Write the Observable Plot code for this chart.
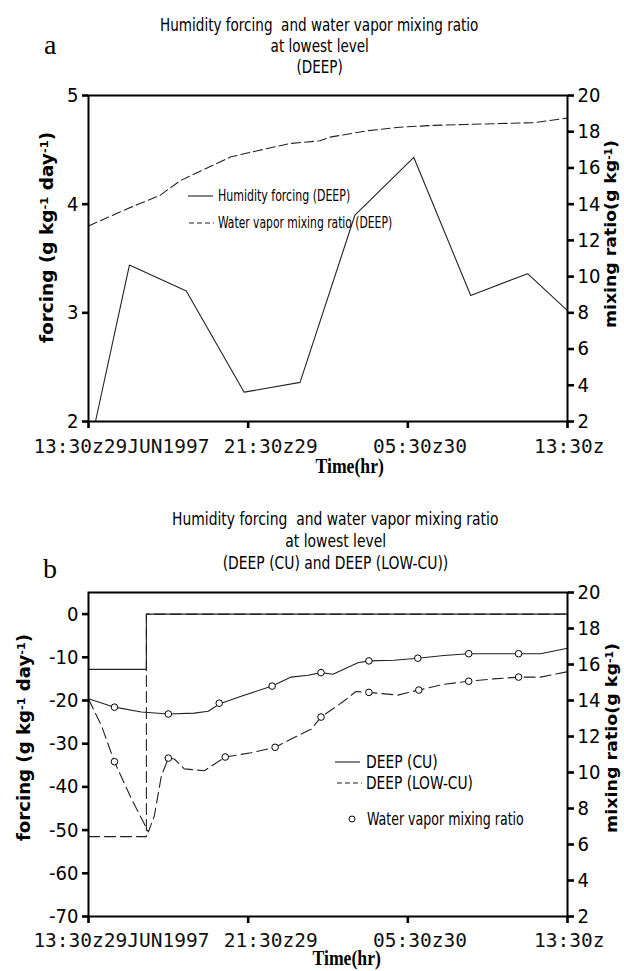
<!DOCTYPE html>
<html><head><meta charset="utf-8">
<script src="https://cdn.jsdelivr.net/npm/d3@7"></script>
<script src="https://cdn.jsdelivr.net/npm/@observablehq/plot@0.6"></script>
<style>
body{margin:0;background:#fff;}
#wrap{position:relative;width:624px;height:971px;overflow:hidden;background:#fff;}
.pl{position:absolute;left:0;}
.lbl{position:absolute;white-space:nowrap;line-height:1;color:#000;}
.sp{position:relative;top:-0.45em;font-size:0.62em;}
</style></head><body><div id="wrap"></div>
<script>
// ---------- data ----------
const timeTicks = [0, 8, 16, 24];
const timeTickLabels = ["13:30z29JUN1997", "21:30z29", "05:30z30", "13:30z"];
const forcingTicksA = [2, 3, 4, 5];
const forcingTicksB = [0, -10, -20, -30, -40, -50, -60, -70];
const mixTicks = [2, 4, 6, 8, 10, 12, 14, 16, 18, 20];

// panel a
const hoursForceA = [0.35, 2.05, 4.9, 7.8, 10.6, 13.35, 16.3, 19.15, 22.0, 24];
const forceA = [2.0, 3.44, 3.2, 2.27, 2.36, 3.9, 4.43, 3.16, 3.36, 3.02];
const hoursMixA = [0, 1.95, 3.6, 4.6, 7.1, 7.85, 10.1, 11.6, 12.1, 13.95, 15.6, 17.25, 18.9, 20.6, 22.3, 24];
const mixA = [12.8, 13.75, 14.5, 15.3, 16.6, 16.8, 17.35, 17.5, 17.7, 18.05, 18.25, 18.35, 18.4, 18.45, 18.5, 18.75];

// panel b
const hoursStepB = [0, 2.9, 2.9, 24];
const forceCU = [-12.8, -12.8, 0, 0];
const forceLowCU = [-51.5, -51.5, 0, 0];
const hoursMixCU = [0, 1.3, 2.65, 4.0, 5.3, 6.0, 6.55, 7.65, 9.2, 10.15, 11.0, 11.65, 12.25, 13.5, 14.05, 15.3, 16.5, 17.8, 19.05, 21.55, 22.65, 24];
const mixCU = [14.1, 13.63, 13.36, 13.25, 13.3, 13.4, 13.8, 14.24, 14.8, 15.3, 15.4, 15.55, 15.46, 16.1, 16.2, 16.24, 16.35, 16.5, 16.6, 16.6, 16.6, 16.9];
const hoursMixLowCU = [0, 0.65, 1.3, 2.15, 3.0, 3.3, 3.65, 4.0, 4.3, 4.8, 5.8, 6.85, 8.15, 9.35, 10.15, 11.15, 11.65, 12.8, 13.4, 14.05, 15.5, 16.55, 17.8, 19.05, 20.3, 21.55, 22.65, 24];
const mixLowCU = [14.08, 12.6, 10.6, 8.54, 6.7, 7.6, 9.8, 10.8, 10.75, 10.2, 10.1, 10.86, 11.1, 11.4, 11.86, 12.4, 13.08, 13.97, 14.5, 14.45, 14.3, 14.58, 14.9, 15.07, 15.2, 15.3, 15.3, 15.6];
const hoursCircCU = [1.3, 4.0, 6.55, 9.2, 11.65, 14.05, 16.5, 19.05, 21.55];
const circCU = [13.63, 13.25, 13.85, 14.8, 15.55, 16.2, 16.35, 16.6, 16.6];
const hoursCircLowCU = [1.3, 4.0, 6.85, 9.35, 11.65, 14.05, 16.55, 19.05, 21.55];
const circLowCU = [10.6, 10.8, 10.86, 11.4, 13.08, 14.45, 14.58, 15.07, 15.3];

// ---------- helpers ----------
const wrap = document.getElementById("wrap");
const NARROW = '"Liberation Sans Narrow", "DejaVu Sans Condensed", "Liberation Sans", sans-serif';
const MONO = '"DejaVu Sans Mono", monospace';
const BOLD = '"DejaVu Sans", Verdana, sans-serif';
const SERIF = '"Liberation Serif", "DejaVu Serif", serif';

const mixToA = m => 2 + (m - 2) * 3 / 18;
const aToMix = v => 2 + (v - 2) * 18 / 3;
const mixToB = m => -70 + (m - 2) * 75 / 18;
const bToMix = v => 2 + (v + 70) * 18 / 75;
const labelX = t => 1.65 + 0.935 * t;

const pts = (xs, ys, f = v => v) => xs.map((x, i) => ({x, y: f(ys[i])}));

function label(html, o) {
  const el = document.createElement("div");
  el.className = "lbl";
  el.innerHTML = html;
  el.style.fontFamily = o.font;
  el.style.fontSize = o.size + "px";
  el.style.fontWeight = o.weight || "normal";
  wrap.appendChild(el);
  const w = el.offsetWidth, h = el.offsetHeight;
  const s = o.width ? o.width / w : (o.scale || 1);
  const ax = o.anchor === "start" ? 0 : 0.5;
  el.style.left = (o.x - w * ax) + "px";
  el.style.top = (o.y - h / 2) + "px";
  el.style.transformOrigin = `${ax * 100}% 50%`;
  el.style.transform = `rotate(${o.rotate || 0}deg) scaleX(${s})`;
  return s;
}

const common = {
  width: 624, marginLeft: 88, marginRight: 57,
  style: {fontFamily: NARROW, fontSize: "20px", background: "transparent", overflow: "visible"}
};
const lineStyle = {x: "x", y: "y", stroke: "#222", strokeWidth: 1.1};

// ---------- panel a ----------
const plotA = Plot.plot({
  ...common, height: 485, marginTop: 95, marginBottom: 64,
  x: {domain: [0, 24], axis: null},
  y: {domain: [2, 5], axis: null},
  marks: [
    Plot.line(pts(hoursMixA, mixA, mixToA), {...lineStyle, strokeDasharray: "9,4"}),
    Plot.line(pts(hoursForceA, forceA), {...lineStyle}),
    Plot.frame({stroke: "#000", strokeWidth: 2}),
    Plot.axisY(forcingTicksA, {anchor: "left", tickSize: 6, tickPadding: 4, strokeWidth: 2.6, label: null, tickFormat: d => String(d)}),
    Plot.axisY(mixTicks.map(mixToA), {anchor: "right", tickSize: 6, tickPadding: 4, strokeWidth: 2.6, label: null, tickFormat: d => String(Math.round(aToMix(d)))}),
    Plot.axisX(timeTicks, {anchor: "bottom", tickSize: 7, strokeWidth: 2.6, tickFormat: () => "", label: null}),
    Plot.text(timeTicks, {x: labelX, frameAnchor: "bottom", dy: 25, text: (d, i) => timeTickLabels[i], fontFamily: MONO, fontSize: 19.5, lineAnchor: "middle", fill: "#111"})
  ]
});
plotA.classList.add("pl");
plotA.style.top = "0px";
wrap.appendChild(plotA);

// ---------- panel b ----------
const plotB = Plot.plot({
  ...common, height: 486, marginTop: 107, marginBottom: 55,
  x: {domain: [0, 24], axis: null},
  y: {domain: [-70, 5], axis: null},
  marks: [
    Plot.line(pts(hoursStepB, forceLowCU), {...lineStyle, strokeDasharray: "11,5"}),
    Plot.line(pts(hoursStepB, forceCU), {...lineStyle}),
    Plot.line(pts(hoursMixLowCU, mixLowCU, mixToB), {...lineStyle, strokeDasharray: "11,5"}),
    Plot.line(pts(hoursMixCU, mixCU, mixToB), {...lineStyle}),
    Plot.dot(pts(hoursCircCU, circCU, mixToB), {x: "x", y: "y", r: 3.3, stroke: "#000", fill: "#fff", strokeWidth: 1}),
    Plot.dot(pts(hoursCircLowCU, circLowCU, mixToB), {x: "x", y: "y", r: 3.3, stroke: "#000", fill: "#fff", strokeWidth: 1}),
    Plot.frame({stroke: "#000", strokeWidth: 2}),
    Plot.axisY(forcingTicksB, {anchor: "left", tickSize: 6, tickPadding: 4, strokeWidth: 2.6, label: null, tickFormat: d => String(d)}),
    Plot.axisY(mixTicks.map(mixToB), {anchor: "right", tickSize: 6, tickPadding: 4, strokeWidth: 2.6, label: null, tickFormat: d => String(Math.round(bToMix(d)))}),
    Plot.axisX(timeTicks, {anchor: "bottom", tickSize: 7, strokeWidth: 2.6, tickFormat: () => "", label: null}),
    Plot.text(timeTicks, {x: labelX, frameAnchor: "bottom", dy: 24, text: (d, i) => timeTickLabels[i], fontFamily: MONO, fontSize: 19.5, lineAnchor: "middle", fill: "#111"})
  ]
});
plotB.classList.add("pl");
plotB.style.top = "485px";
wrap.appendChild(plotB);

// ---------- texts ----------
const tA = label("Humidity forcing&nbsp; and water vapor mixing ratio", {x: 319, y: 25, font: NARROW, size: 18, width: 318});
label("at lowest level", {x: 319, y: 46, font: NARROW, size: 18, scale: tA});
label("(DEEP)", {x: 319, y: 67, font: NARROW, size: 18, scale: tA});
label("a", {x: 50, y: 45, font: SERIF, size: 28});

const tB = label("Humidity forcing&nbsp; and water vapor mixing ratio", {x: 335, y: 519, font: NARROW, size: 18, width: 326});
label("at lowest level", {x: 335, y: 541, font: NARROW, size: 18, scale: tB});
label("(DEEP (CU) and DEEP (LOW-CU))", {x: 335, y: 563, font: NARROW, size: 18, scale: tB});
label("b", {x: 50, y: 569, font: SERIF, size: 28});

const forcingTitle = 'forcing (g kg<span class="sp">-1</span> day<span class="sp">-1</span>)';
const mixTitle = 'mixing ratio(g kg<span class="sp">-1</span>)';
label(forcingTitle, {x: 47, y: 237, font: BOLD, weight: "bold", size: 17, width: 211, rotate: -90});
label(mixTitle, {x: 611, y: 234, font: BOLD, weight: "bold", size: 16, width: 188, rotate: -90});
label(forcingTitle, {x: 24, y: 737, font: BOLD, weight: "bold", size: 17, width: 207, rotate: -90});
label(mixTitle, {x: 612, y: 738, font: BOLD, weight: "bold", size: 16, width: 190, rotate: -90});

label("Time(hr)", {x: 349, y: 466, font: SERIF, weight: "bold", size: 20, width: 68});
label("Time(hr)", {x: 346, y: 958, font: SERIF, weight: "bold", size: 20, width: 68});

// legends
label("Humidity forcing (DEEP)", {x: 218, y: 196, font: NARROW, size: 16, width: 132, anchor: "start"});
label("Water vapor mixing ratio (DEEP)", {x: 218, y: 223, font: NARROW, size: 16, width: 174, anchor: "start"});
label("DEEP (CU)", {x: 366, y: 762, font: NARROW, size: 18, width: 72, anchor: "start"});
label("DEEP (LOW-CU)", {x: 366, y: 783, font: NARROW, size: 18, width: 107, anchor: "start"});
label("Water vapor mixing ratio", {x: 367, y: 819, font: NARROW, size: 18, width: 157, anchor: "start"});

const leg = d3.select(wrap).append("svg")
  .attr("width", 624).attr("height", 971)
  .style("position", "absolute").style("left", 0).style("top", 0).style("pointer-events", "none");
const legItems = [
  {x1: 188, x2: 213, y: 196, dash: null},
  {x1: 189, x2: 214, y: 223, dash: "5,3"},
  {x1: 335, x2: 360, y: 762, dash: null},
  {x1: 337, x2: 362, y: 783, dash: "5,3"}
];
leg.selectAll("line").data(legItems).join("line")
  .attr("x1", d => d.x1).attr("x2", d => d.x2).attr("y1", d => d.y).attr("y2", d => d.y)
  .attr("stroke", "#222").attr("stroke-width", 1.1).attr("stroke-dasharray", d => d.dash);
leg.append("circle").attr("cx", 352).attr("cy", 819).attr("r", 3).attr("fill", "#fff").attr("stroke", "#000");
</script></body></html>
